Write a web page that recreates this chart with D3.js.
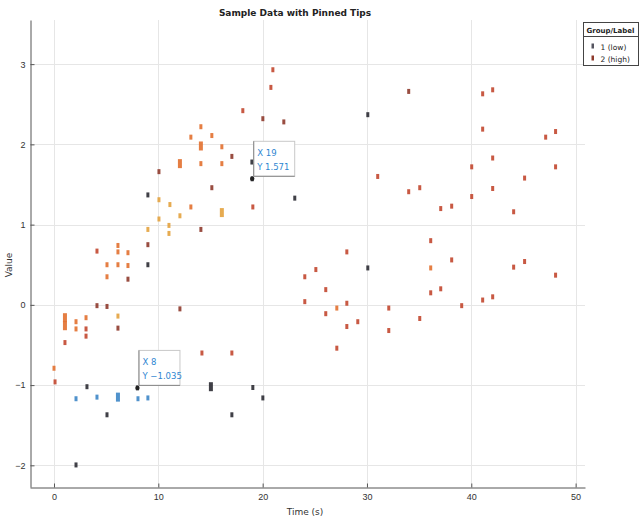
<!DOCTYPE html>
<html>
<head>
<meta charset="utf-8">
<script src="https://cdn.jsdelivr.net/npm/d3@7"></script>
<style>
  body { margin: 0; background: #fff; }
  svg { display: block; font-family: "DejaVu Sans", "Liberation Sans", sans-serif; }
</style>
</head>
<body>
<svg id="chart" width="640" height="519"></svg>
<script>
// ---- data ----
const xTicks = [0, 10, 20, 30, 40, 50];
const yTicks = [-2, -1, 0, 1, 2, 3];

const xs = [
  14.08, 13.12, 15.13, 14.08, 16.09, 17.05, 12.07, 14.08, 16.09, 10.06,
  15.13, 9.00, 10.06, 11.11, 13.12, 16.09, 19.06, 12.07, 10.06, 9.00,
  11.02, 11.02, 14.08, 9.00, 6.13, 6.13, 4.12, 7.09, 5.08, 6.13,
  7.09, 9.00, 5.08, 7.09, 18.97, 18.10, 20.02, 22.03, 20.98, 20.79,
  23.08, 34.00, 41.09, 42.05, 30.08, 41.09, 47.13, 48.08, 42.05, 40.04,
  48.08, 31.03, 45.11, 34.00, 35.06, 42.05, 37.07, 38.12, 40.04, 44.06,
  28.07, 25.10, 24.04, 30.08, 26.05, 24.04, 26.05, 27.11, 28.07, 28.07,
  29.12, 27.11, 36.11, 38.12, 36.11, 36.11, 37.07, 39.08, 35.06, 32.09,
  32.09, 41.09, 42.05, 44.06, 45.11, 48.08, 1.05, 1.05, 2.11, 2.11,
  3.07, 3.07, 3.07, 4.12, 5.08, 6.13, 6.13, 1.05, 0.00, 0.10,
  12.07, 14.18, 17.05, 3.16, 15.04, 19.06, 20.02, 2.11, 4.12, 6.13,
  8.05, 9.00, 5.08, 17.05, 2.11, 19.00, 8.00
];
const ys = [
  2.22, 2.09, 2.11, 1.98, 1.97, 1.85, 1.76, 1.76, 1.76, 1.66,
  1.46, 1.37, 1.31, 1.25, 1.22, 1.15, 1.22, 1.11, 1.07, 0.94,
  0.99, 0.89, 0.94, 0.75, 0.74, 0.66, 0.67, 0.65, 0.50, 0.50,
  0.49, 0.50, 0.35, 0.32, 1.78, 2.42, 2.32, 2.28, 2.93, 2.71,
  1.33, 2.66, 2.63, 2.68, 2.37, 2.19, 2.09, 2.16, 1.83, 1.72,
  1.72, 1.60, 1.58, 1.41, 1.46, 1.45, 1.20, 1.23, 1.35, 1.16,
  0.66, 0.44, 0.35, 0.46, 0.19, 0.04, -0.11, -0.04, 0.02, -0.27,
  -0.21, -0.54, 0.80, 0.56, 0.46, 0.15, 0.20, -0.01, -0.17, -0.04,
  -0.32, 0.06, 0.10, 0.47, 0.54, 0.37, -0.16, -0.26, -0.21, -0.30,
  -0.16, -0.30, -0.39, -0.01, -0.02, -0.14, -0.29, -0.47, -0.79, -0.96,
  -0.05, -0.60, -0.60, -1.02, -1.02, -1.03, -1.16, -1.17, -1.15, -1.15,
  -1.17, -1.16, -1.37, -1.37, -1.995, 1.571, -1.035
];
// colour class of each point: o orange, r red, m dark red, a amber, k dark, b blue
const kinds = [
  "o","o","o","o","o","m","o","o","o","m",
  "m","k","a","a","o","a","r","a","a","a",
  "a","a","m","m","o","o","r","o","o","o",
  "o","k","o","m","k","r","m","m","r","r",
  "k","m","r","r","k","r","r","r","r","r",
  "r","r","r","r","r","r","r","r","r","r",
  "r","r","r","k","r","r","r","o","r","r",
  "r","r","r","r","o","r","r","r","r","r",
  "r","r","r","r","r","r","o","o","o","o",
  "o","r","r","m","m","a","m","r","o","r",
  "m","r","r","k","k","k","k","b","b","b",
  "b","b","k","k","k","k","k"
];
const bigPoints = [3, 6, 15, 86, 87, 104, 109];

const palette = { o: "#e2702f", r: "#c2472f", m: "#8e3a2c", a: "#e3a23e", k: "#2b2b33", b: "#3d86c6" };

const tips = [ { x: 19.00, y: 1.571 }, { x: 8.00, y: -1.035 } ];

const titleText = "Sample Data with Pinned Tips";
const xLabel = "Time (s)";
const yLabel = "Value";
const legendTitle = "Group/Label";
const legendItems = ["1 (low)", "2 (high)"];
const legendColors = ["#555560", "#8e3a2c"];

// ---- drawing ----
const svg = d3.select("#chart");
const x = d3.scaleLinear().domain([-2.3, 50.9]).range([30, 585]);
const y = d3.scaleLinear().domain([-2.27, 3.55]).range([487, 20]);

// grid
const grid = svg.append("g").attr("stroke", "#e6e6e6").attr("stroke-width", 1);
grid.selectAll("line.h").data(yTicks).join("line")
  .attr("x1", x.range()[0]).attr("x2", x.range()[1])
  .attr("y1", d => Math.round(y(d)) + 0.5).attr("y2", d => Math.round(y(d)) + 0.5);
grid.selectAll("line.v").data(xTicks).join("line")
  .attr("y1", y.range()[0]).attr("y2", y.range()[1])
  .attr("x1", d => Math.round(x(d)) + 0.5).attr("x2", d => Math.round(x(d)) + 0.5);

// axes
const xAxis = svg.append("g").attr("transform", "translate(0,487.5)")
  .call(d3.axisBottom(x).tickValues(xTicks).tickFormat(d3.format("d"))
    .tickSizeInner(-4).tickSizeOuter(0).tickPadding(6));
const yAxis = svg.append("g").attr("transform", "translate(30.5,0)")
  .call(d3.axisLeft(y).tickValues(yTicks).tickFormat(d3.format("d"))
    .tickSizeInner(-4).tickSizeOuter(0).tickPadding(5));
[xAxis, yAxis].forEach(a => {
  a.select(".domain").attr("stroke", "#555");
  a.selectAll(".tick line").attr("stroke", "#555");
  a.selectAll(".tick text").attr("fill", "#333").attr("font-size", 9);
});

// points
const idx = d3.range(xs.length);
svg.append("g").selectAll("rect").data(idx).join("rect")
  .attr("width", i => bigPoints.includes(i) ? 4 : 3)
  .attr("height", i => bigPoints.includes(i) ? 9 : 5)
  .attr("x", i => x(xs[i]) - (bigPoints.includes(i) ? 2 : 1.5))
  .attr("y", i => y(ys[i]) - (bigPoints.includes(i) ? 4.5 : 2.5))
  .attr("fill", i => palette[kinds[i]])
  .attr("opacity", 0.9);

// data tips
const tipG = svg.append("g").selectAll("g").data(tips).join("g")
  .attr("transform", d => `translate(${x(d.x)},${y(d.y)})`);
tipG.append("rect")
  .attr("x", 1.5).attr("y", -37.5).attr("width", 41).attr("height", 35)
  .attr("fill", "#fff").attr("fill-opacity", 0.95)
  .attr("stroke", "#c8c8c8").attr("stroke-width", 1);
tipG.append("line").attr("x1", 1.5).attr("x2", 1.5).attr("y1", -37.5).attr("y2", -2.5)
  .attr("stroke", "#888");
tipG.append("line").attr("x1", 1.5).attr("x2", 42.5).attr("y1", -2.5).attr("y2", -2.5)
  .attr("stroke", "#888");
tipG.append("circle").attr("r", 2.2).attr("fill", "#222");
tipG.append("text").attr("x", 5).attr("y", -23).attr("font-size", 8.5).attr("fill", "#2f86d1")
  .text(d => `X ${d.x}`);
tipG.append("text").attr("x", 5).attr("y", -9).attr("font-size", 8.5).attr("fill", "#2f86d1")
  .text(d => `Y ${d3.format(".4")(d.y)}`);

// title and axis labels
svg.append("text").attr("x", 295).attr("y", 16).attr("text-anchor", "middle")
  .attr("font-size", 9).attr("font-weight", "bold").attr("fill", "#222").text(titleText);
svg.append("text").attr("x", 305).attr("y", 515).attr("text-anchor", "middle")
  .attr("font-size", 9).attr("fill", "#333").text(xLabel);
svg.append("text").attr("transform", "translate(12,265) rotate(-90)").attr("text-anchor", "middle")
  .attr("font-size", 9).attr("fill", "#333").text(yLabel);

// legend
const lg = svg.append("g").attr("transform", "translate(583.5,22.5)");
lg.append("rect").attr("width", 55).attr("height", 43).attr("fill", "#fff").attr("stroke", "#444");
lg.append("text").attr("x", 3).attr("y", 10).attr("font-size", 7).attr("font-weight", "bold")
  .attr("fill", "#222").text(legendTitle);
lg.append("line").attr("x1", 0).attr("x2", 55).attr("y1", 14).attr("y2", 14).attr("stroke", "#444");
const items = lg.selectAll("g.item").data(legendItems).join("g")
  .attr("transform", (d, i) => `translate(0,${24 + i * 12})`);
items.append("rect").attr("x", 8).attr("y", -3).attr("width", 2.5).attr("height", 5)
  .attr("fill", (d, i) => legendColors[i]);
items.append("text").attr("x", 17).attr("y", 3).attr("font-size", 7.5).attr("fill", "#222").text(d => d);
</script>
</body>
</html>
